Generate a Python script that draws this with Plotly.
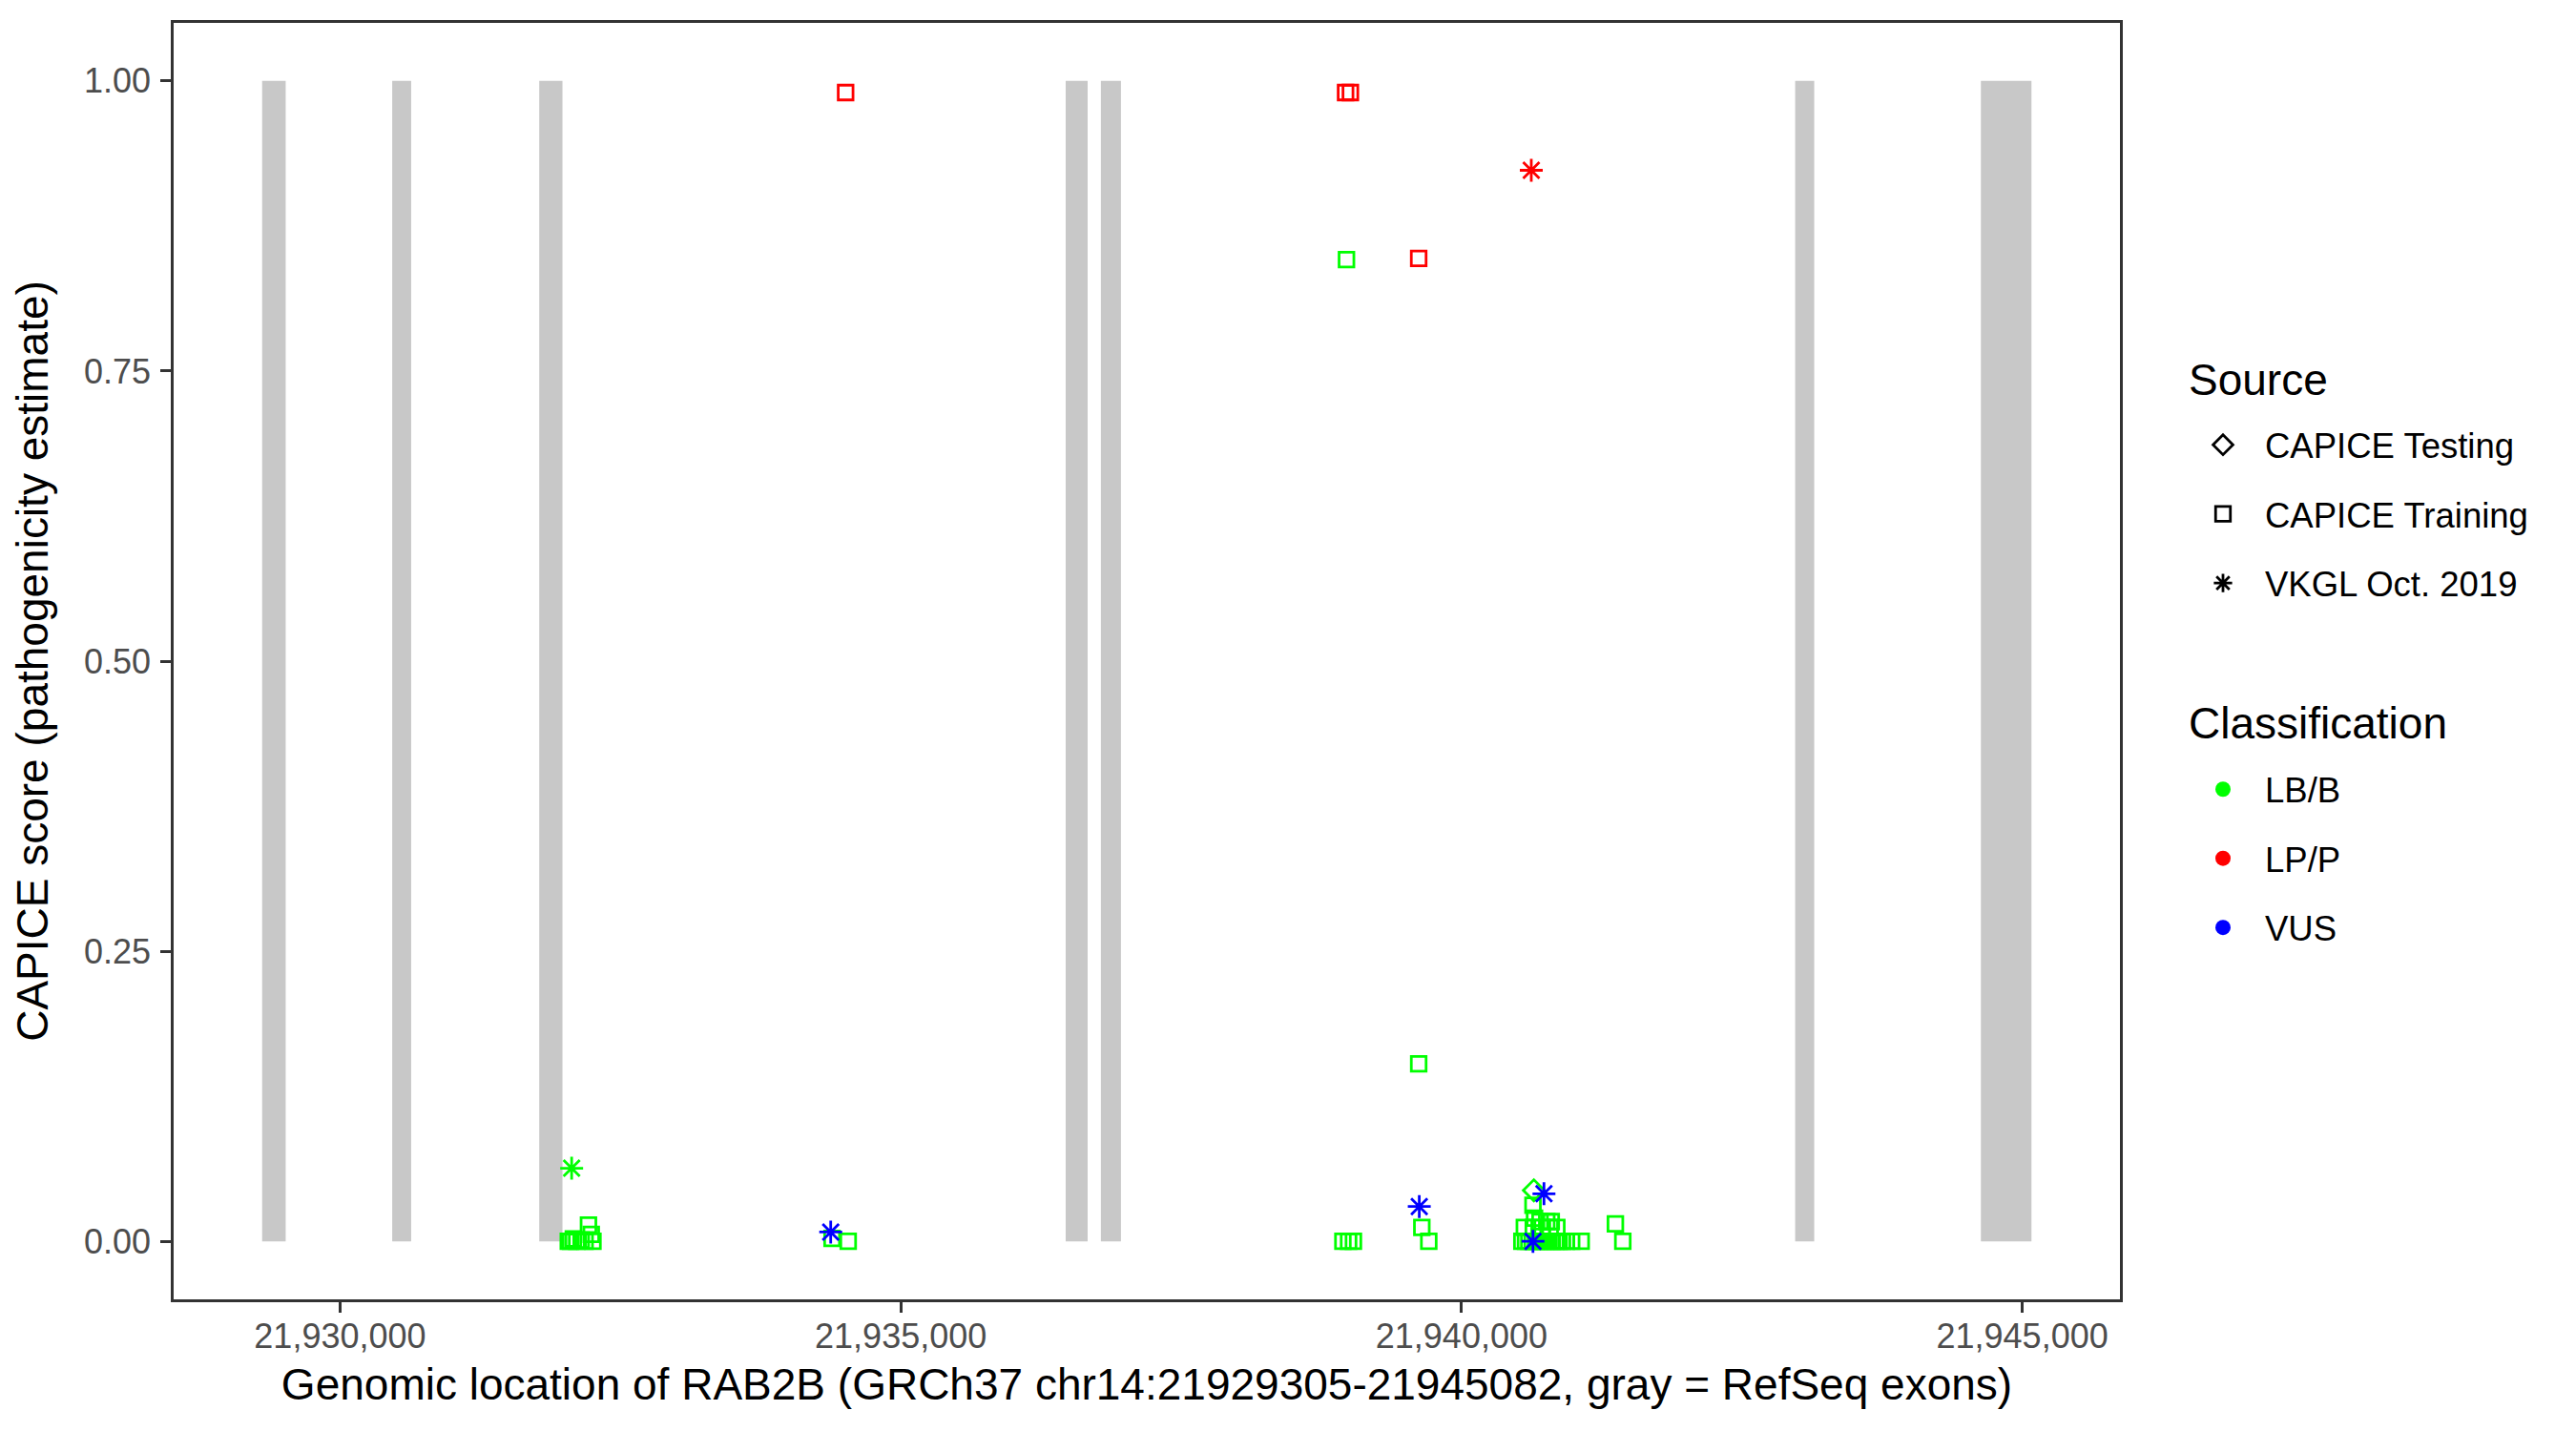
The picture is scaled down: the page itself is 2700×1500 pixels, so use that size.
import plotly.graph_objects as go

# ---- data ----
exon_start = [21929305, 21930465, 21931776, 21936470, 21936784, 21942975, 21944631]
exon_end   = [21929515, 21930634, 21931983, 21936666, 21936963, 21943145, 21945082]

position = [
    # CAPICE Training, LB/B
    21932035, 21932055, 21932080, 21932110, 21932150, 21932185, 21932215, 21932240, 21932255,
    21934387, 21934531,
    21938974, 21938942, 21938993, 21939036,
    21939618, 21939646, 21939708,
    21940637, 21940651,
    21940700, 21940760, 21940800,
    21940560, 21940640, 21940720, 21940790, 21940850,
    21940538, 21940570, 21940600, 21940630, 21940660, 21940690, 21940720, 21940750, 21940780,
    21940810, 21940840, 21940870, 21940900, 21940935, 21940982, 21941067,
    21941372, 21941438,
    # CAPICE Training, LP/P
    21934508, 21938966, 21939009, 21939618,
    # CAPICE Testing, LB/B
    21940645,
    # VKGL
    21932065, 21940622, 21934375, 21939623, 21940735, 21940637,
]
score = [
    0.0, 0.0, 0.002, 0.0, 0.001, 0.0, 0.014, 0.006, 0.0,
    0.0025, 0.0,
    0.846, 0.0, 0.0, 0.0,
    0.153, 0.012, 0.0,
    0.031, 0.020,
    0.017, 0.017, 0.017,
    0.012, 0.012, 0.012, 0.012, 0.012,
    0.0, 0.0, 0.0, 0.0, 0.0, 0.0, 0.0, 0.0, 0.0,
    0.0, 0.0, 0.0, 0.0, 0.0, 0.0, 0.0,
    0.015, 0.0,
    0.990, 0.990, 0.990, 0.847,
    0.044,
    0.063, 0.923, 0.008, 0.030, 0.041, 0.0,
]
source = (["CAPICE Training"] * 46 + ["CAPICE Training"] * 4 + ["CAPICE Testing"] * 1
          + ["VKGL Oct. 2019"] * 6)
classification = (["LB/B"] * 46 + ["LP/P"] * 4 + ["LB/B"] * 1
                  + ["LB/B", "LP/P", "VUS", "VUS", "VUS", "VUS"])

source_levels = ["CAPICE Testing", "CAPICE Training", "VKGL Oct. 2019"]
class_levels = ["LB/B", "LP/P", "VUS"]
x_ticks = [21930000, 21935000, 21940000, 21945000]
y_ticks = [0.0, 0.25, 0.5, 0.75, 1.0]

# ---- styles ----
class_colors = {"LB/B": "#00FF00", "LP/P": "#FF0000", "VUS": "#0000FF"}
source_symbols = {"CAPICE Testing": "diamond-open", "CAPICE Training": "square-open",
                  "VKGL Oct. 2019": "asterisk-open"}
source_sizes = {"CAPICE Testing": 17, "CAPICE Training": 15.5, "VKGL Oct. 2019": 20}
FONT = "Liberation Sans, Arial, sans-serif"
TICK_SIZE = 36
TEXT_SIZE = 36.5
TITLE_SIZE = 46

fig = go.Figure()

# exons
for s, e in zip(exon_start, exon_end):
    fig.add_shape(type="rect", xref="x", yref="y", x0=s, x1=e, y0=0, y1=1,
                  fillcolor="#C8C8C8", line=dict(width=0), layer="below")

# data points
for src in ["CAPICE Training", "CAPICE Testing", "VKGL Oct. 2019"]:
    for cl in class_levels:
        xs = [p for p, so, c in zip(position, source, classification) if so == src and c == cl]
        ys = [v for v, so, c in zip(score, source, classification) if so == src and c == cl]
        if not xs:
            continue
        fig.add_trace(go.Scatter(
            x=xs, y=ys, mode="markers", showlegend=False, hoverinfo="x+y",
            marker=dict(symbol=source_symbols[src], size=source_sizes[src],
                        color=class_colors[cl], line=dict(width=2.8, color=class_colors[cl])),
        ))

# legend: Source
for i, src in enumerate(source_levels):
    fig.add_trace(go.Scatter(
        x=[None], y=[None], mode="markers", name=src, legend="legend",
        legendgroup="s%d" % i,
        marker=dict(symbol=source_symbols[src], size=source_sizes[src],
                    color="black", line=dict(width=2.8, color="black")),
    ))
# legend: Classification
for i, cl in enumerate(class_levels):
    fig.add_trace(go.Scatter(
        x=[None], y=[None], mode="markers", name=cl, legend="legend2",
        legendgroup="c%d" % i,
        marker=dict(symbol="circle", size=19, color=class_colors[cl]),
    ))

# screen-space panel (page body adds an 8px offset)
PL, PR, PT, PB = 182, 2222, 24, 1362
OFF = 8
PW = PR - PL
PH = PB - PT

def px_x(p):
    return (p - PL) / PW

def px_y(p):
    return 1 - (p - PT) / PH

legend_common = dict(
    xanchor="left", yanchor="top", bgcolor="rgba(0,0,0,0)", borderwidth=0,
    font=dict(family=FONT, size=TEXT_SIZE, color="black"), itemwidth=78,
    tracegroupgap=22, itemsizing="trace",
)
fig.update_layout(
    legend=dict(x=px_x(2286), y=px_y(436), **legend_common),
    legend2=dict(x=px_x(2286), y=px_y(797), **legend_common),
)
for txt, yc in [("Source", 398), ("Classification", 758)]:
    fig.add_annotation(text=txt, xref="paper", yref="paper", x=px_x(2292), y=px_y(yc),
                       xanchor="left", yanchor="middle", showarrow=False,
                       font=dict(family=FONT, size=TITLE_SIZE, color="black"))

fig.update_layout(
    width=2700, height=1500,
    margin=dict(l=PL - OFF, r=2700 - PR + OFF, t=PT - OFF, b=1500 - PB + OFF),
    paper_bgcolor="white", plot_bgcolor="white",
    font=dict(family=FONT, color="black"),
    xaxis=dict(
        range=[21928516, 21945871], tickvals=x_ticks, tickformat=",d",
        showgrid=False, zeroline=False, showline=True, mirror=True,
        linecolor="#333333", linewidth=2.5,
        ticks="outside", ticklen=11, tickwidth=2.5, tickcolor="#333333",
        ticklabelstandoff=-6,
        tickfont=dict(family=FONT, size=TICK_SIZE, color="#4D4D4D"),
        title=dict(text="Genomic location of RAB2B (GRCh37 chr14:21929305-21945082, gray = RefSeq exons)",
                   font=dict(family=FONT, size=TITLE_SIZE, color="black"), standoff=15),
    ),
    yaxis=dict(
        range=[-0.05, 1.05], tickvals=y_ticks, tickformat=".2f",
        showgrid=False, zeroline=False, showline=True, mirror=True,
        linecolor="#333333", linewidth=2.5,
        ticks="outside", ticklen=11, tickwidth=2.5, tickcolor="#333333",
        ticklabelstandoff=3,
        tickfont=dict(family=FONT, size=TICK_SIZE, color="#4D4D4D"),
        title=dict(text="CAPICE score (pathogenicity estimate)",
                   font=dict(family=FONT, size=TITLE_SIZE, color="black"), standoff=23),
    ),
)

fig.write_html("out.html")
